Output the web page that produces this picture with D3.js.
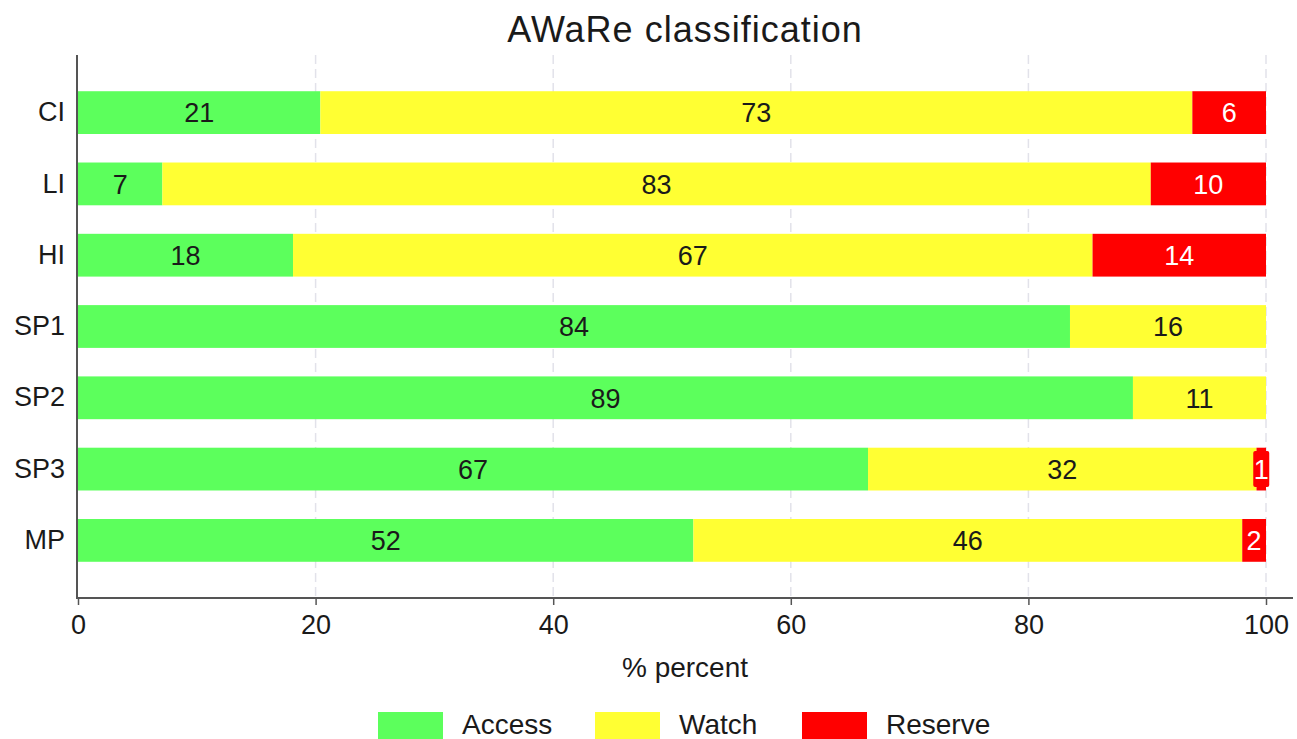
<!DOCTYPE html>
<html>
<head>
<meta charset="utf-8">
<script src="https://cdn.jsdelivr.net/npm/d3@7"></script>
<style>
  body { margin: 0; background: #fff; }
  text { font-family: "Liberation Sans", Arial, sans-serif; fill: #1a1a1a; }
</style>
</head>
<body>
<script>
'use strict'

// groups, top to bottom
var groups = ['CI', 'LI', 'HI', 'SP1', 'SP2', 'SP3', 'MP']
var categories = ['Access', 'Watch', 'Reserve']

// segment widths (%)
var access = [20.4, 7.1, 18.1, 83.5, 88.8, 66.5, 51.8]
var watch = [73.4, 83.2, 67.3, 16.5, 11.2, 32.7, 46.2]
var reserve = [6.2, 9.7, 14.6, 0, 0, 0.8, 2.0]

// printed labels
var accessLabel = ['21', '7', '18', '84', '89', '67', '52']
var watchLabel = ['73', '83', '67', '16', '11', '32', '46']
var reserveLabel = ['6', '10', '14', '', '', '1', '2']

var xTicks = [0, 20, 40, 60, 80, 100]

var colors = {Access: '#5cff5c', Watch: '#ffff33', Reserve: '#ff0000'}

var W = 1297
var H = 739
var margin = {top: 55, right: 4, bottom: 141, left: 78}

var svg = d3.select('body').append('svg')
  .attr('width', W)
  .attr('height', H)

var x = d3.scaleLinear().domain([0, 100]).range([78, 1266])
var y = d3.scaleBand().domain(groups)
  .range([margin.top, H - margin.bottom])
  .paddingInner(0.4)
  .paddingOuter(0.508)

var rows = groups.map(function (g, i) {
  return {group: g, Access: access[i], Watch: watch[i], Reserve: reserve[i]}
})
var labels = {Access: accessLabel, Watch: watchLabel, Reserve: reserveLabel}

var stack = d3.stack().keys(categories)
var series = stack(rows)

// title
svg.append('text')
  .attr('x', 685)
  .attr('y', 42)
  .attr('text-anchor', 'middle')
  .attr('font-size', '36px')
  .attr('letter-spacing', '1px')
  .text('AWaRe classification')

// grid lines
svg.append('g')
  .selectAll('line')
  .data(xTicks.slice(1))
  .enter().append('line')
  .attr('x1', d => x(d)).attr('x2', d => x(d))
  .attr('y1', margin.top).attr('y2', H - margin.bottom)
  .style('stroke', '#e2e2ea')
  .style('stroke-width', 1.5)
  .style('stroke-dasharray', '9,5')

// bars
var layer = svg.append('g')
  .selectAll('g')
  .data(series)
  .enter().append('g')
  .style('fill', d => colors[d.key])

layer.selectAll('rect')
  .data(d => d)
  .enter().append('rect')
  .attr('x', d => x(d[0]))
  .attr('width', d => x(d[1]) - x(d[0]))
  .attr('y', d => y(d.data.group))
  .attr('height', y.bandwidth())

// bar labels
series.forEach(function (s) {
  var g = svg.append('g')
  s.forEach(function (d, i) {
    var txt = labels[s.key][i]
    if (!txt) return
    var cx = (x(d[0]) + x(d[1])) / 2
    var cy = y(d.data.group) + y.bandwidth() / 2
    if (s.key === 'Reserve') {
      var w = txt.length * 14 + 2
      g.append('rect')
        .attr('x', cx - w / 2)
        .attr('y', cy - 18)
        .attr('width', w)
        .attr('height', 36)
        .attr('rx', 2)
        .style('fill', colors.Reserve)
    }
    g.append('text')
      .attr('x', cx)
      .attr('y', cy)
      .attr('dy', '0.36em')
      .attr('text-anchor', 'middle')
      .attr('font-size', '27px')
      .style('fill', s.key === 'Reserve' ? '#ffffff' : '#1a1a1a')
      .text(txt)
  })
})

// y axis
var yAxis = svg.append('g')
  .attr('transform', `translate(${margin.left - 1}, 0)`)
  .call(d3.axisLeft(y).tickSize(0).tickPadding(12))
yAxis.select('.domain').remove()
yAxis.selectAll('text')
  .attr('font-size', '27px')
  .style('font-family', '"Liberation Sans", Arial, sans-serif')
  .style('fill', '#1a1a1a')
svg.append('line')
  .attr('x1', margin.left - 1).attr('x2', margin.left - 1)
  .attr('y1', margin.top).attr('y2', H - margin.bottom)
  .style('stroke', '#555')
  .style('stroke-width', 2)

// x axis
var xAxis = svg.append('g')
  .attr('transform', `translate(0, ${H - margin.bottom})`)
  .call(d3.axisBottom(x).tickValues(xTicks).tickSize(7).tickPadding(10))
xAxis.select('.domain').remove()
xAxis.selectAll('.tick line').style('stroke', '#555').style('stroke-width', 1.5)
xAxis.selectAll('text')
  .attr('font-size', '27px')
  .style('font-family', '"Liberation Sans", Arial, sans-serif')
  .style('fill', '#1a1a1a')
svg.append('line')
  .attr('x1', margin.left - 2).attr('x2', W - margin.right)
  .attr('y1', H - margin.bottom).attr('y2', H - margin.bottom)
  .style('stroke', '#555')
  .style('stroke-width', 2)

// x axis title
svg.append('text')
  .attr('x', 685)
  .attr('y', 677)
  .attr('text-anchor', 'middle')
  .attr('font-size', '28px')
  .text('% percent')

// legend
var legendX = [378, 595, 802]
var legend = svg.append('g')
  .selectAll('g')
  .data(categories)
  .enter().append('g')
  .attr('transform', (d, i) => `translate(${legendX[i]}, 712)`)
legend.append('rect')
  .attr('width', 65)
  .attr('height', 32)
  .style('fill', d => colors[d])
legend.append('text')
  .attr('x', 84)
  .attr('y', 22)
  .attr('font-size', '28px')
  .text(d => d)
</script>
</body>
</html>
